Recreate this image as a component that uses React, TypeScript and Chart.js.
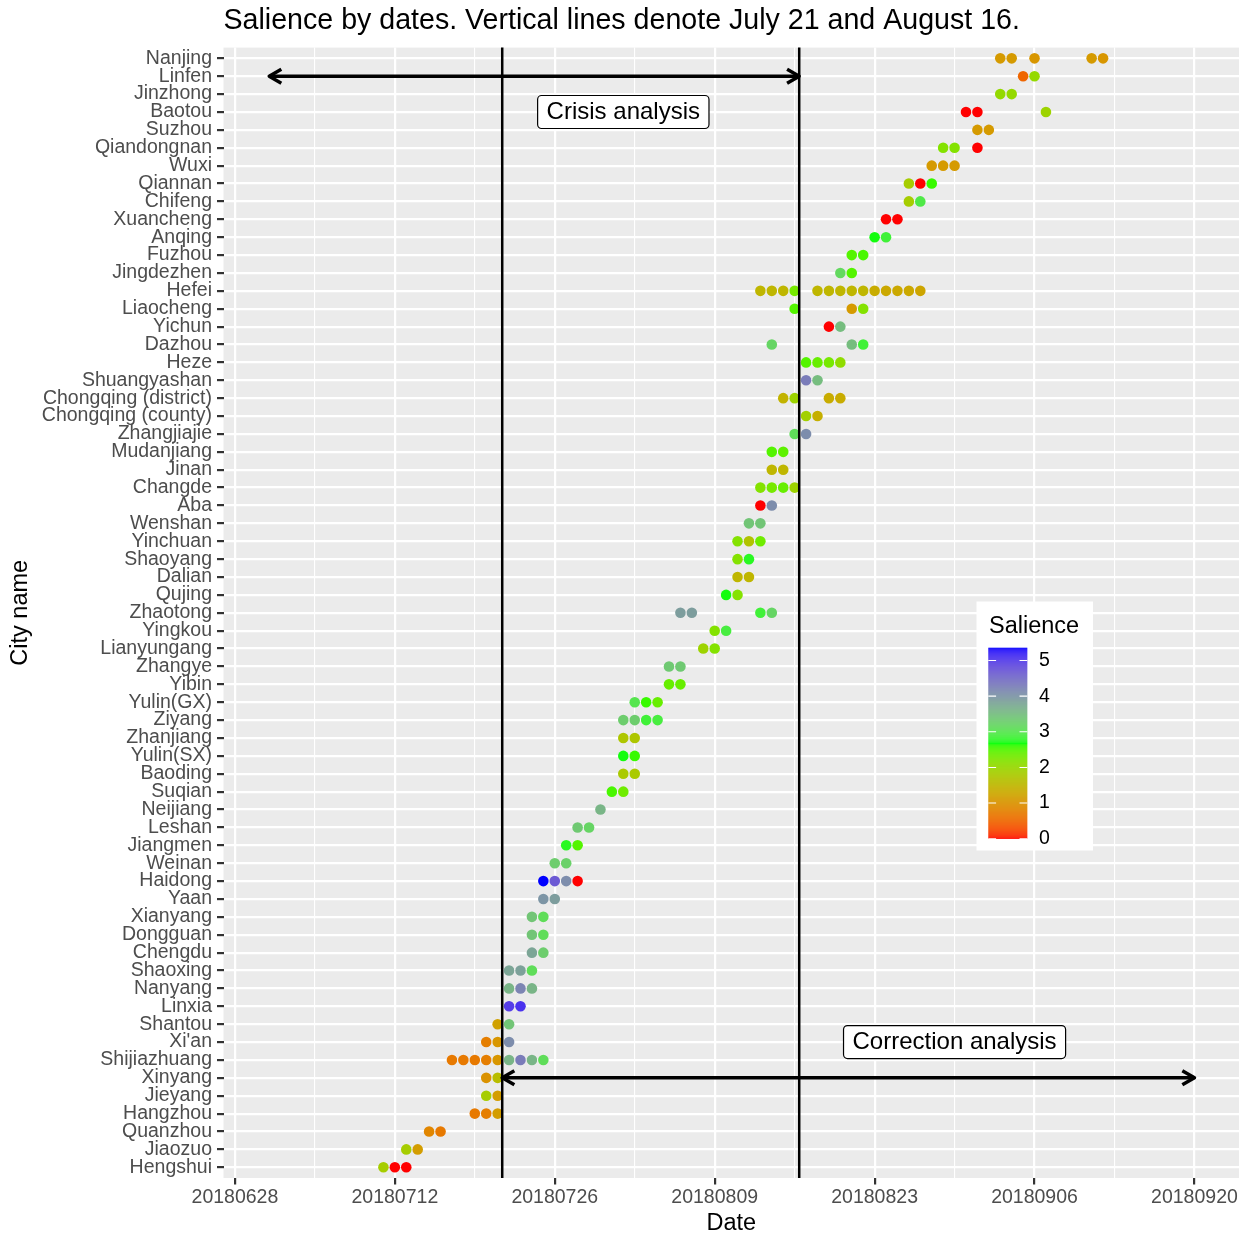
import React, { useEffect, useRef } from "react";
import { Chart, registerables } from "chart.js";

Chart.register(...registerables);

const FONT = "'Liberation Sans', Arial, Helvetica, sans-serif";

// Cities, top to bottom as shown on the y axis
const cityNames = [
  "Nanjing", "Linfen", "Jinzhong", "Baotou", "Suzhou", "Qiandongnan", "Wuxi", "Qiannan",
  "Chifeng", "Xuancheng", "Anqing", "Fuzhou", "Jingdezhen", "Hefei", "Liaocheng", "Yichun",
  "Dazhou", "Heze", "Shuangyashan", "Chongqing (district)", "Chongqing (county)", "Zhangjiajie",
  "Mudanjiang", "Jinan", "Changde", "Aba", "Wenshan", "Yinchuan", "Shaoyang", "Dalian", "Qujing",
  "Zhaotong", "Yingkou", "Lianyungang", "Zhangye", "Yibin", "Yulin(GX)", "Ziyang", "Zhanjiang",
  "Yulin(SX)", "Baoding", "Suqian", "Neijiang", "Leshan", "Jiangmen", "Weinan", "Haidong", "Yaan",
  "Xianyang", "Dongguan", "Chengdu", "Shaoxing", "Nanyang", "Linxia", "Shantou", "Xi'an",
  "Shijiazhuang", "Xinyang", "Jieyang", "Hangzhou", "Quanzhou", "Jiaozuo", "Hengshui",
];

// Dates of each point, per city (same order as cityNames)
const cityDates: string[][] = [
  ["20180903", "20180904", "20180906", "20180911", "20180912"],
  ["20180905", "20180906"],
  ["20180903", "20180904"],
  ["20180831", "20180901", "20180907"],
  ["20180901", "20180902"],
  ["20180829", "20180830", "20180901"],
  ["20180828", "20180829", "20180830"],
  ["20180826", "20180827", "20180828"],
  ["20180826", "20180827"],
  ["20180824", "20180825"],
  ["20180823", "20180824"],
  ["20180821", "20180822"],
  ["20180820", "20180821"],
  ["20180813", "20180814", "20180815", "20180816", "20180818", "20180819", "20180820",
   "20180821", "20180822", "20180823", "20180824", "20180825", "20180826", "20180827"],
  ["20180816", "20180821", "20180822"],
  ["20180819", "20180820"],
  ["20180814", "20180821", "20180822"],
  ["20180817", "20180818", "20180819", "20180820"],
  ["20180817", "20180818"],
  ["20180815", "20180816", "20180819", "20180820"],
  ["20180817", "20180818"],
  ["20180816", "20180817"],
  ["20180814", "20180815"],
  ["20180814", "20180815"],
  ["20180813", "20180814", "20180815", "20180816"],
  ["20180813", "20180814"],
  ["20180812", "20180813"],
  ["20180811", "20180812", "20180813"],
  ["20180811", "20180812"],
  ["20180811", "20180812"],
  ["20180810", "20180811"],
  ["20180806", "20180807", "20180813", "20180814"],
  ["20180809", "20180810"],
  ["20180808", "20180809"],
  ["20180805", "20180806"],
  ["20180805", "20180806"],
  ["20180802", "20180803", "20180804"],
  ["20180801", "20180802", "20180803", "20180804"],
  ["20180801", "20180802"],
  ["20180801", "20180802"],
  ["20180801", "20180802"],
  ["20180731", "20180801"],
  ["20180730"],
  ["20180728", "20180729"],
  ["20180727", "20180728"],
  ["20180726", "20180727"],
  ["20180725", "20180726", "20180727", "20180728"],
  ["20180725", "20180726"],
  ["20180724", "20180725"],
  ["20180724", "20180725"],
  ["20180724", "20180725"],
  ["20180722", "20180723", "20180724"],
  ["20180722", "20180723", "20180724"],
  ["20180722", "20180723"],
  ["20180721", "20180722"],
  ["20180720", "20180721", "20180722"],
  ["20180717", "20180718", "20180719", "20180720", "20180721", "20180722", "20180723", "20180724", "20180725"],
  ["20180720", "20180721"],
  ["20180720", "20180721"],
  ["20180719", "20180720", "20180721"],
  ["20180715", "20180716"],
  ["20180713", "20180714"],
  ["20180711", "20180712", "20180713"],
];

// Salience of each point, per city (same order as cityDates)
const citySalience: number[][] = [
  [1.1, 1.1, 1.05, 1.1, 1.05],
  [0.5, 2.05],
  [2.05, 2.05],
  [0, 0, 1.95],
  [1.1, 1.1],
  [2.2, 2.2, 0],
  [1.1, 1.1, 1.1],
  [1.85, 0, 2.6],
  [1.85, 2.95],
  [0, 0],
  [2.7, 2.85],
  [2.5, 2.55],
  [3.15, 2.5],
  [1.5, 1.5, 1.5, 2.3, 1.5, 1.5, 1.5, 1.5, 1.5, 1.35, 1.3, 1.3, 1.3, 1.25],
  [2.5, 1.1, 2.2],
  [0, 3.5],
  [3.2, 3.5, 2.85],
  [2.5, 2.4, 2.3, 2.1],
  [4.3, 3.5],
  [1.45, 1.95, 1.35, 1.35],
  [1.9, 1.4],
  [3.1, 4.1],
  [2.5, 2.45],
  [1.5, 1.5],
  [2.2, 2.3, 2.4, 1.95],
  [0, 4.1],
  [3.4, 3.4],
  [2.2, 1.7, 2.35],
  [2.2, 2.75],
  [1.5, 1.5],
  [2.7, 2.2],
  [3.9, 3.9, 2.85, 3.2],
  [2.2, 2.9],
  [1.95, 2.2],
  [3.35, 3.35],
  [2.4, 2.4],
  [3.0, 2.6, 2.4],
  [3.3, 3.3, 2.85, 2.9],
  [1.75, 1.75],
  [2.7, 2.6],
  [1.8, 1.8],
  [2.55, 2.35],
  [3.6],
  [3.35, 3.2],
  [2.75, 2.5],
  [3.3, 3.25],
  [5.36, 4.7, 4.1, 0],
  [4.0, 3.9],
  [3.4, 3.1],
  [3.4, 3.1],
  [3.8, 3.3],
  [3.8, 3.85, 3.1],
  [3.6, 4.2, 3.6],
  [5.0, 5.1],
  [1.2, 3.4],
  [0.75, 1.05, 4.1],
  [0.7, 0.7, 0.7, 0.75, 1.05, 3.6, 4.3, 3.6, 3.1],
  [1.0, 1.6],
  [1.85, 1.15],
  [0.7, 0.75, 1.15],
  [0.85, 0.7],
  [1.85, 1.15],
  [1.85, 0, 0],
];

// X axis tick labels (major ticks, every 14 days)
const xTickLabels = ["20180628", "20180712", "20180726", "20180809", "20180823", "20180906", "20180920"];

// Vertical reference lines: July 21 and August 16 (drawn ~0.4 day late in the original)
const vlineDates = ["20180721", "20180816"];
const vlineShift = 0.4;

// Double-headed arrows
const arrowRows = ["Linfen", "Xinyang"];
const arrowFrom = ["20180701", "vline0"];
const arrowTo = ["vline1", "20180920"];

// Boxed annotations
const noteTexts = ["Crisis analysis", "Correction analysis"];
const noteDates = ["20180801", "20180830"];
const noteRows = ["Baotou", "Xi'an"];

// Legend colour stops (interpolated in CIELAB) and legend breaks
const colourStops = ["#FF0000", "#00FF00", "#0000FF"];
const legendBreaks = [0, 1, 2, 3, 4, 5];

// ---------- helpers ----------
const baseUTC = Date.UTC(+xTickLabels[0].slice(0, 4), +xTickLabels[0].slice(4, 6) - 1, +xTickLabels[0].slice(6, 8));
function dayOf(s: string): number {
  const y = +s.slice(0, 4), m = +s.slice(4, 6), d = +s.slice(6, 8);
  return (Date.UTC(y, m - 1, d) - baseUTC) / 86400000;
}
const vlineDays = vlineDates.map((d) => dayOf(d) + vlineShift);
function resolveDay(s: string): number {
  if (s.startsWith("vline")) return vlineDays[+s.slice(5)];
  return dayOf(s);
}
const rowOf = (name: string) => cityNames.length - 1 - cityNames.indexOf(name);

function lin(c: number) { c /= 255; return c <= 0.04045 ? c / 12.92 : Math.pow((c + 0.055) / 1.055, 2.4); }
function unlin(c: number) {
  const v = c <= 0.0031308 ? 12.92 * c : 1.055 * Math.pow(Math.max(c, 0), 1 / 2.4) - 0.055;
  return Math.round(Math.max(0, Math.min(1, v)) * 255);
}
const Xn = 0.95047, Yn = 1.0, Zn = 1.08883;
const fLab = (t: number) => (t > 216 / 24389 ? Math.cbrt(t) : (24389 / 27 * t + 16) / 116);
const fInv = (t: number) => { const t3 = t * t * t; return t3 > 216 / 24389 ? t3 : (116 * t - 16) / (24389 / 27); };
function hexToLab(h: string): number[] {
  const R = lin(parseInt(h.slice(1, 3), 16)), G = lin(parseInt(h.slice(3, 5), 16)), B = lin(parseInt(h.slice(5, 7), 16));
  const X = (0.4124564 * R + 0.3575761 * G + 0.1804375 * B) / Xn;
  const Y = (0.2126729 * R + 0.7151522 * G + 0.072175 * B) / Yn;
  const Z = (0.0193339 * R + 0.119192 * G + 0.9503041 * B) / Zn;
  const fx = fLab(X), fy = fLab(Y), fz = fLab(Z);
  return [116 * fy - 16, 500 * (fx - fy), 200 * (fy - fz)];
}
function labToCss(L: number, a: number, b: number): string {
  const fy = (L + 16) / 116, fx = fy + a / 500, fz = fy - b / 200;
  const X = fInv(fx) * Xn, Y = fInv(fy) * Yn, Z = fInv(fz) * Zn;
  const R = 3.2404542 * X - 1.5371385 * Y - 0.4985314 * Z;
  const G = -0.969266 * X + 1.8760108 * Y + 0.041556 * Z;
  const B = 0.0556434 * X - 0.2040259 * Y + 1.0572252 * Z;
  return `rgb(${unlin(R)},${unlin(G)},${unlin(B)})`;
}
const stopLabs = colourStops.map(hexToLab);
const allSal = citySalience.flat();
const salMin = Math.min(...allSal);
const salMax = Math.max(...allSal);
function salColour(v: number): string {
  let t = (v - salMin) / (salMax - salMin);
  t = Math.max(0, Math.min(1, t));
  const seg = t * (stopLabs.length - 1);
  const i = Math.min(Math.floor(seg), stopLabs.length - 2);
  const f = seg - i;
  const p = stopLabs[i], q = stopLabs[i + 1];
  return labToCss(p[0] + (q[0] - p[0]) * f, p[1] + (q[1] - p[1]) * f, p[2] + (q[2] - p[2]) * f);
}

// x range (data + annotation span with ggplot-like expansion)
const spanHi = dayOf("20180920");
const xMin = -1.0;
const xMax = 87.9;
const gridDays: number[] = [];
for (let d = 0; d <= spanHi + 0.01; d += 7) gridDays.push(d);
const majorDays = xTickLabels.map(dayOf);
const isMajor = (v: number) => majorDays.some((m) => Math.abs(m - v) < 1e-6);
const xLabelFor = (v: number) => {
  const i = majorDays.findIndex((m) => Math.abs(m - v) < 1e-6);
  return i >= 0 ? xTickLabels[i] : "";
};

const W = 1246, H = 1235;
const PANEL_TOP = 47.6, PANEL_BOTTOM = 1178, PANEL_LEFT = 223.5, PANEL_RIGHT = 1239;
const TICK_FONT = 19.5;

function drawArrowHead(ctx: CanvasRenderingContext2D, xt: number, y: number, dir: number) {
  const L = 14, ang = Math.PI / 6;
  ctx.beginPath();
  ctx.moveTo(xt - dir * L * Math.cos(ang), y - L * Math.sin(ang));
  ctx.lineTo(xt, y);
  ctx.lineTo(xt - dir * L * Math.cos(ang), y + L * Math.sin(ang));
  ctx.stroke();
}

const decorPlugin = {
  id: "decor",
  beforeDraw(chart: any) {
    const { ctx, chartArea: a } = chart;
    ctx.save();
    ctx.fillStyle = "#EBEBEB";
    ctx.fillRect(a.left, a.top, a.right - a.left, a.bottom - a.top);
    ctx.restore();
  },
  afterDatasetsDraw(chart: any) {
    const { ctx, chartArea: a } = chart;
    const xs = chart.scales.x, ys = chart.scales.y;
    ctx.save();
    // vertical lines
    ctx.strokeStyle = "#000";
    ctx.lineWidth = 2.5;
    vlineDays.forEach((d) => {
      const px = xs.getPixelForValue(d);
      ctx.beginPath();
      ctx.moveTo(px, a.top);
      ctx.lineTo(px, a.bottom);
      ctx.stroke();
    });
    // arrows
    ctx.lineWidth = 3.5;
    ctx.lineCap = "butt";
    ctx.lineJoin = "round";
    arrowRows.forEach((r, i) => {
      const y = ys.getPixelForValue(rowOf(r));
      const x1 = xs.getPixelForValue(resolveDay(arrowFrom[i]));
      const x2 = xs.getPixelForValue(resolveDay(arrowTo[i]));
      ctx.beginPath();
      ctx.moveTo(x1, y);
      ctx.lineTo(x2, y);
      ctx.stroke();
      drawArrowHead(ctx, x1, y, -1);
      drawArrowHead(ctx, x2, y, 1);
    });
    // boxed labels
    ctx.font = `24px ${FONT}`;
    ctx.textAlign = "center";
    ctx.textBaseline = "middle";
    noteTexts.forEach((t, i) => {
      const cx = xs.getPixelForValue(dayOf(noteDates[i]));
      const cy = ys.getPixelForValue(rowOf(noteRows[i]));
      const w = ctx.measureText(t).width + 18;
      const h = 33;
      ctx.beginPath();
      (ctx as any).roundRect(cx - w / 2, cy - h / 2, w, h, 4);
      ctx.fillStyle = "#FFFFFF";
      ctx.fill();
      ctx.lineWidth = 1.2;
      ctx.strokeStyle = "#000";
      ctx.stroke();
      ctx.fillStyle = "#000";
      ctx.fillText(t, cx, cy + 0.5);
    });
    ctx.restore();
  },
  afterDraw(chart: any) {
    const { ctx } = chart;
    ctx.save();
    // title
    ctx.fillStyle = "#000";
    ctx.font = `28.6px ${FONT}`;
    ctx.textAlign = "left";
    ctx.textBaseline = "alphabetic";
    ctx.fillText("Salience by dates. Vertical lines denote July 21 and August 16.", PANEL_LEFT, 28.5);
    // legend
    const bx = 976.5, by = 601.5, bw = 116.5, bh = 249;
    ctx.fillStyle = "#FFFFFF";
    ctx.fillRect(bx, by, bw, bh);
    ctx.fillStyle = "#000";
    ctx.font = `23.5px ${FONT}`;
    ctx.fillText("Salience", 989, 632.5);
    const x0 = 988.3, x1 = 1027.3, yTop = 647.7, yBot = 838.7;
    const hgt = yBot - yTop;
    for (let py = 0; py < Math.ceil(hgt); py++) {
      const v = salMin + (salMax - salMin) * ((py + 0.5) / hgt);
      ctx.fillStyle = salColour(v);
      ctx.fillRect(x0, yBot - py - 1, x1 - x0, 1.2);
    }
    ctx.strokeStyle = "#FFFFFF";
    ctx.lineWidth = 1.1;
    ctx.font = `${TICK_FONT}px ${FONT}`;
    ctx.textBaseline = "middle";
    legendBreaks.forEach((b) => {
      const yy = yBot - ((b - salMin) / (salMax - salMin)) * hgt;
      ctx.beginPath();
      ctx.moveTo(x0, yy);
      ctx.lineTo(x0 + 7.8, yy);
      ctx.moveTo(x1 - 7.8, yy);
      ctx.lineTo(x1, yy);
      ctx.stroke();
      ctx.fillStyle = "#000";
      ctx.fillText(String(b), 1039, yy);
    });
    ctx.restore();
  },
};

export default function App() {
  const canvasRef = useRef<HTMLCanvasElement | null>(null);

  useEffect(() => {
    document.body.style.margin = "0";
    const canvas = canvasRef.current;
    if (!canvas) return;

    const points: any[] = [];
    cityNames.forEach((name, ci) => {
      const row = cityNames.length - 1 - ci;
      cityDates[ci].forEach((d, k) => {
        points.push({ x: dayOf(d), y: row, s: citySalience[ci][k] });
      });
    });

    const chart = new Chart(canvas, {
      type: "scatter",
      data: {
        datasets: [
          {
            data: points,
            pointRadius: 5.3,
            pointHoverRadius: 5.3,
            pointBorderWidth: 0,
            pointBackgroundColor: (c: any) => salColour(c.raw ? c.raw.s : 0),
            borderColor: "rgba(0,0,0,0)",
          } as any,
        ],
      },
      options: {
        animation: false,
        responsive: false,
        events: [],
        layout: { padding: { top: PANEL_TOP, right: W - PANEL_RIGHT, bottom: 0, left: 0 } },
        plugins: { legend: { display: false }, tooltip: { enabled: false }, title: { display: false } },
        scales: {
          x: {
            type: "linear",
            min: xMin,
            max: xMax,
            afterBuildTicks: (s: any) => { s.ticks = gridDays.map((v) => ({ value: v })); },
            afterFit: (s: any) => { s.height = H - PANEL_BOTTOM; },
            grid: {
              color: "#FFFFFF",
              lineWidth: (c: any) => (c.tick && isMajor(c.tick.value) ? 2.2 : 1.1),
              tickColor: (c: any) => (c.tick && isMajor(c.tick.value) ? "#333333" : "rgba(0,0,0,0)"),
              tickLength: 6.5,
              tickWidth: 2.2,
            },
            border: { display: false },
            ticks: {
              autoSkip: false,
              maxRotation: 0,
              minRotation: 0,
              padding: 1,
              color: "#4D4D4D",
              font: { family: FONT, size: TICK_FONT },
              callback: (v: any) => xLabelFor(Number(v)),
            },
            title: {
              display: true,
              text: "Date",
              color: "#000",
              font: { family: FONT, size: 23.5, lineHeight: 1 },
              padding: { top: 0, bottom: 0 },
            },
          },
          y: {
            type: "linear",
            min: -0.6,
            max: cityNames.length - 1 + 0.6,
            afterBuildTicks: (s: any) => { s.ticks = cityNames.map((_, i) => ({ value: i })); },
            afterFit: (s: any) => { s.width = PANEL_LEFT; },
            grid: { color: "#FFFFFF", lineWidth: 2.2, tickColor: "#333333", tickLength: 6.5, tickWidth: 2.2 },
            border: { display: false },
            ticks: {
              autoSkip: false,
              padding: 5,
              color: "#4D4D4D",
              font: { family: FONT, size: TICK_FONT },
              callback: (v: any) => cityNames[cityNames.length - 1 - Number(v)] ?? "",
            },
            title: {
              display: true,
              text: "City name",
              color: "#000",
              font: { family: FONT, size: 23.5, lineHeight: 1 },
              padding: { top: 9, bottom: 0 },
            },
          },
        },
      } as any,
      plugins: [decorPlugin as any],
    });

    return () => chart.destroy();
  }, []);

  return (
    <div style={{ width: W, height: H }}>
      <canvas ref={canvasRef} width={W} height={H} style={{ display: "block", width: W, height: H }} />
    </div>
  );
}
